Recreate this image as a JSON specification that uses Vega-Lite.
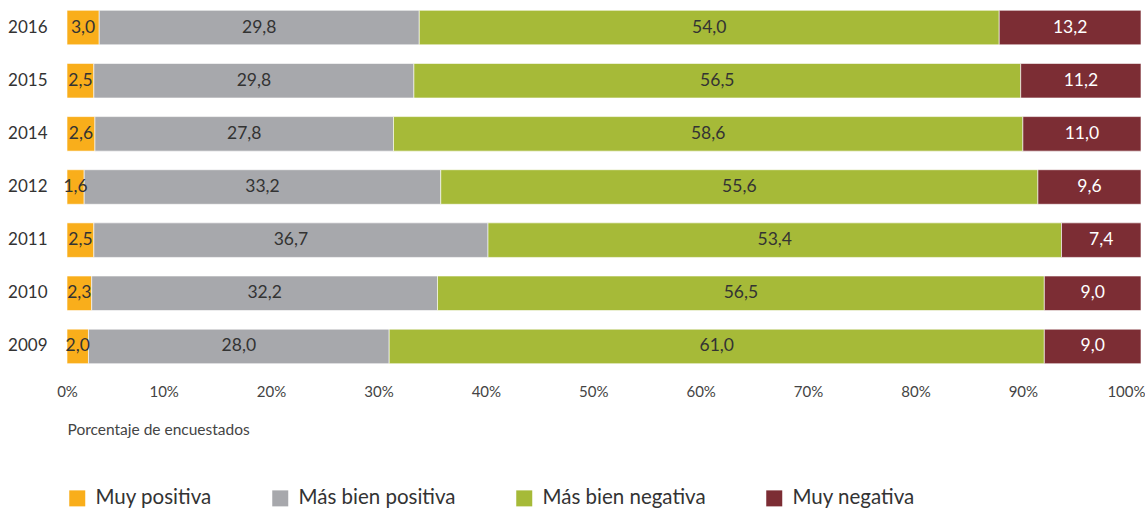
{
  "$schema": "https://vega.github.io/schema/vega-lite/v6.json",
  "width": 1074,
  "height": 372,
  "padding": {"left": 7, "top": 1, "right": 0, "bottom": 0},
  "background": "white",
  "config": {
    "locale": {"number": {"decimal": ",", "thousands": ".", "grouping": [3], "currency": ["", " €"]}},
    "view": {"stroke": null},
    "font": "Lato"
  },
  "data": {
    "values": [
      {"year": "2016", "cat": "Muy positiva", "value": 3.0},
      {"year": "2016", "cat": "Más bien positiva", "value": 29.8},
      {"year": "2016", "cat": "Más bien negativa", "value": 54.0},
      {"year": "2016", "cat": "Muy negativa", "value": 13.2},
      {"year": "2015", "cat": "Muy positiva", "value": 2.5},
      {"year": "2015", "cat": "Más bien positiva", "value": 29.8},
      {"year": "2015", "cat": "Más bien negativa", "value": 56.5},
      {"year": "2015", "cat": "Muy negativa", "value": 11.2},
      {"year": "2014", "cat": "Muy positiva", "value": 2.6},
      {"year": "2014", "cat": "Más bien positiva", "value": 27.8},
      {"year": "2014", "cat": "Más bien negativa", "value": 58.6},
      {"year": "2014", "cat": "Muy negativa", "value": 11.0},
      {"year": "2012", "cat": "Muy positiva", "value": 1.6},
      {"year": "2012", "cat": "Más bien positiva", "value": 33.2},
      {"year": "2012", "cat": "Más bien negativa", "value": 55.6},
      {"year": "2012", "cat": "Muy negativa", "value": 9.6},
      {"year": "2011", "cat": "Muy positiva", "value": 2.5},
      {"year": "2011", "cat": "Más bien positiva", "value": 36.7},
      {"year": "2011", "cat": "Más bien negativa", "value": 53.4},
      {"year": "2011", "cat": "Muy negativa", "value": 7.4},
      {"year": "2010", "cat": "Muy positiva", "value": 2.3},
      {"year": "2010", "cat": "Más bien positiva", "value": 32.2},
      {"year": "2010", "cat": "Más bien negativa", "value": 56.5},
      {"year": "2010", "cat": "Muy negativa", "value": 9.0},
      {"year": "2009", "cat": "Muy positiva", "value": 2.0},
      {"year": "2009", "cat": "Más bien positiva", "value": 28.0},
      {"year": "2009", "cat": "Más bien negativa", "value": 61.0},
      {"year": "2009", "cat": "Muy negativa", "value": 9.0}
    ]
  },
  "transform": [
    {"calculate": "indexof(['Muy positiva','Más bien positiva','Más bien negativa','Muy negativa'], datum.cat)", "as": "k"},
    {"stack": "value", "groupby": ["year"], "sort": [{"field": "k", "order": "ascending"}], "as": ["v0", "v1"]},
    {"calculate": "(datum.v0 + datum.v1) / 2", "as": "mid"}
  ],
  "encoding": {
    "y": {
      "field": "year",
      "type": "ordinal",
      "sort": "descending",
      "scale": {"paddingInner": 0.35, "paddingOuter": 0.175},
      "axis": {
        "title": null,
        "ticks": false,
        "domain": false,
        "labelPadding": 20,
        "labelFontSize": 17,
        "labelFontWeight": 400,
        "labelColor": "#333333",
        "labelFont": "Lato"
      }
    }
  },
  "layer": [
    {
      "mark": {"type": "bar", "stroke": "white", "strokeWidth": 0.6},
      "encoding": {
        "x": {
          "field": "v0",
          "type": "quantitative",
          "scale": {"domain": [0, 100], "nice": false},
          "axis": {
            "values": [0, 10, 20, 30, 40, 50, 60, 70, 80, 90, 100],
            "labelExpr": "datum.value + '%'",
            "labelFlush": false,
            "labelAlign": {"condition": {"test": "datum.value === 0", "value": "center"}, "value": "right"},
            "labelOffset": {"condition": {"test": "datum.value === 0", "value": 0}, "value": 4},
            "grid": false,
            "ticks": false,
            "domain": false,
            "labelPadding": 11,
            "labelFontSize": 15,
            "labelFontWeight": 400,
            "labelColor": "#444444",
            "labelFont": "Lato",
            "title": "Porcentaje de encuestados",
            "titleFont": "Lato",
            "titleFontSize": 15.5,
            "titleFontWeight": 400,
            "titleColor": "#444444",
            "titleAnchor": "start",
            "titleAlign": "left",
            "titlePadding": 23
          }
        },
        "x2": {"field": "v1"},
        "color": {
          "field": "cat",
          "type": "nominal",
          "scale": {
            "domain": ["Muy positiva", "Más bien positiva", "Más bien negativa", "Muy negativa"],
            "range": ["#F9AE1B", "#A7A8AC", "#A6BA38", "#7C2D34"]
          },
          "legend": {
            "title": null,
            "orient": "none",
            "direction": "horizontal",
            "legendX": 0,
            "legendY": 487,
            "symbolType": "square",
            "symbolSize": 256,
            "symbolStrokeWidth": 0,
            "labelFontSize": 20.5,
            "labelFontWeight": 400,
            "labelFont": "Lato",
            "labelColor": "#333333",
            "labelOffset": 8,
            "labelLimit": 400,
            "columnPadding": 58
          }
        }
      }
    },
    {
      "mark": {"type": "text", "fontSize": 17.5, "fontWeight": 400, "font": "Lato", "align": "center", "baseline": "middle"},
      "encoding": {
        "x": {"field": "mid", "type": "quantitative"},
        "text": {"field": "value", "type": "quantitative", "format": ".1f"},
        "color": {
          "condition": {"test": "datum.cat === 'Muy negativa'", "value": "white"},
          "value": "#333333"
        }
      }
    }
  ]
}
